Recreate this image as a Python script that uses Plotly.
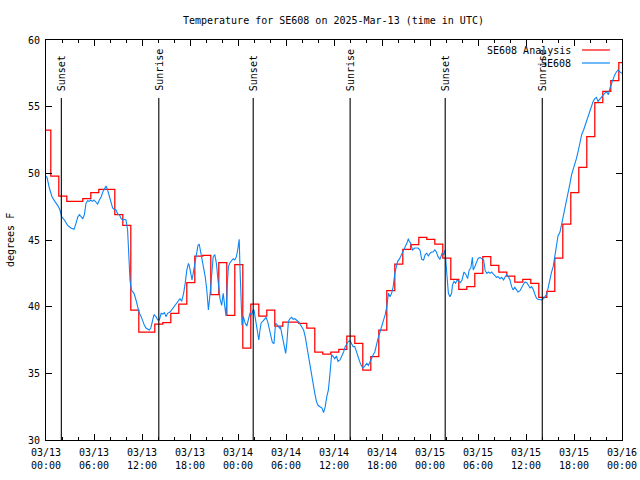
import pandas as pd
import plotly.graph_objects as go

# ---------------- data ----------------
base_time = "2025-03-13 00:00"
title_text = "Temperature for SE608 on 2025-Mar-13 (time in UTC)"
y_title = "degrees F"

# Observations (SE608): hours after base_time, temperature (F)
blue_hours = [0.0, 0.125, 0.42, 0.75, 1.1, 1.46, 1.75, 1.96, 2.3, 2.7, 3.1, 3.5, 3.75, 3.96, 4.17, 4.4, 4.6, 4.8,
              5.0, 5.2, 5.4, 5.6, 5.8, 6.0, 6.25, 6.45, 6.67, 6.9, 7.1, 7.3, 7.5, 7.7, 7.9, 8.1, 8.33, 8.5, 8.75,
              8.96, 9.17, 9.4, 9.6, 9.8, 10.0, 10.2, 10.33, 10.4, 10.5, 10.67, 10.83, 11.0, 11.25, 11.5, 11.67,
              11.9, 12.1, 12.3, 12.5, 12.7, 12.9, 13.1, 13.3, 13.5, 13.75, 13.96, 14.17, 14.4, 14.6, 14.8, 15.0,
              15.2, 15.5, 15.9, 16.33, 16.75, 16.96, 17.2, 17.4, 17.6, 17.8, 17.9, 18.1, 18.25, 18.4, 18.6, 18.8,
              19.0, 19.15, 19.3, 19.5, 19.7, 19.9, 20.1, 20.3, 20.5, 20.7, 20.9, 21.1, 21.3, 21.5, 21.75, 21.96,
              22.15, 22.35, 22.5, 22.65, 22.8, 23.0, 23.2, 23.4, 23.6, 23.8, 23.96, 24.15, 24.25, 24.4, 24.5,
              24.67, 24.9, 25.1, 25.3, 25.5, 25.7, 25.9, 26.0, 26.2, 26.4, 26.6, 26.75, 26.9, 27.1, 27.25, 27.5,
              27.7, 27.9, 28.1, 28.3, 28.5, 28.7, 28.8, 29.0, 29.2, 29.3, 29.5, 29.75, 29.96, 30.1, 30.3, 30.5,
              30.7, 30.9, 31.1, 31.3, 31.5, 31.75, 31.96, 32.2, 32.4, 32.6, 32.8, 33.0, 33.2, 33.4, 33.6, 33.8,
              34.0, 34.25, 34.5, 34.7, 34.9, 35.1, 35.3, 35.5, 35.7, 35.9, 36.1, 36.3, 36.5, 36.75, 36.96, 37.2,
              37.4, 37.6, 37.8, 38.0, 38.2, 38.4, 38.6, 38.8, 38.96, 39.2, 39.4, 39.6, 39.8, 40.1, 40.3, 40.5,
              40.7, 40.9, 41.1, 41.3, 41.5, 41.75, 41.96, 42.2, 42.4, 42.6, 42.8, 43.0, 43.2, 43.4, 43.6, 43.8,
              43.96, 44.2, 44.4, 44.7, 44.9, 45.1, 45.3, 45.4, 45.6, 45.8, 45.9, 46.1, 46.3, 46.5, 46.75, 46.96,
              47.2, 47.4, 47.6, 47.8, 48.0, 48.2, 48.4, 48.6, 48.8, 49.0, 49.25, 49.5, 49.7, 49.9, 50.0, 50.2,
              50.3, 50.5, 50.7, 50.8, 51.0, 51.2, 51.4, 51.6, 51.8, 52.0, 52.25, 52.5, 52.7, 52.9, 53.1, 53.3,
              53.4, 53.6, 53.8, 54.0, 54.25, 54.5, 54.7, 54.9, 55.1, 55.3, 55.5, 55.7, 55.9, 56.1, 56.3, 56.5,
              56.75, 56.96, 57.2, 57.4, 57.6, 57.8, 58.0, 58.2, 58.4, 58.6, 58.8, 59.0, 59.25, 59.5, 59.7, 59.9,
              60.1, 60.3, 60.5, 60.7, 60.9, 61.1, 61.3, 61.5, 61.75, 61.96, 62.2, 62.4, 62.6, 62.8, 63.0, 63.2,
              63.4, 63.6, 63.8, 64.0, 64.25, 64.5, 64.7, 64.9, 65.1, 65.3, 65.5, 65.7, 65.9, 66.1, 66.3, 66.5,
              66.75, 66.96, 67.2, 67.4, 67.6, 67.8, 68.0, 68.2, 68.4, 68.6, 68.8, 69.0, 69.25, 69.5, 69.7, 69.9,
              70.1, 70.3, 70.5, 70.7, 70.9, 71.1, 71.3, 71.5, 71.75, 72.0]
blue_temps = [49.8, 49.7, 48.9, 48.25, 47.9, 47.6, 47.25, 46.75, 46.5, 46.1, 45.9, 45.8, 46.25, 46.7, 46.9, 46.75,
              46.6, 46.9, 47.75, 47.95, 47.9, 48.0, 47.9, 48.0, 47.8, 47.7, 48.0, 48.25, 48.6, 48.9, 49.05, 48.75,
              48.25, 47.75, 47.4, 47.3, 47.25, 46.95, 46.9, 46.6, 46.5, 46.55, 46.5, 45.75, 44.0, 43.0, 42.0,
              41.25, 41.1, 41.0, 40.5, 40.0, 39.5, 39.25, 38.9, 38.6, 38.4, 38.3, 38.25, 38.4, 39.0, 39.4, 39.25,
              39.0, 39.0, 39.5, 39.45, 39.55, 39.25, 39.5, 39.6, 39.95, 40.3, 40.6, 40.4, 41.0, 41.75, 42.75,
              43.25, 43.1, 42.5, 42.0, 42.5, 43.25, 44.0, 44.6, 44.7, 44.25, 43.6, 43.0, 42.25, 41.25, 39.75,
              40.9, 42.25, 43.75, 43.9, 43.25, 42.0, 40.6, 40.1, 41.0, 40.0, 39.3, 41.5, 43.0, 43.3, 43.5, 43.6,
              43.5, 43.75, 44.25, 45.05, 42.9, 40.0, 38.6, 39.25, 38.75, 38.55, 39.0, 39.5, 39.4, 39.75, 39.75,
              39.0, 38.1, 37.5, 38.25, 38.8, 38.9, 39.0, 39.2, 38.9, 38.4, 37.75, 37.3, 37.25, 38.75, 38.7, 38.5,
              38.4, 38.5, 37.9, 37.0, 36.5, 37.25, 38.9, 39.1, 39.2, 39.05, 39.1, 39.0, 38.9, 38.7, 38.5, 38.25,
              37.75, 37.0, 36.25, 35.75, 35.0, 34.25, 33.5, 32.9, 32.6, 32.5, 32.4, 32.05, 32.5, 33.25, 33.75,
              35.0, 36.4, 36.25, 36.1, 36.3, 35.9, 36.0, 36.25, 36.6, 37.0, 37.25, 37.4, 37.45, 37.25, 37.0,
              37.0, 36.6, 36.25, 35.9, 35.6, 35.4, 35.5, 35.75, 35.6, 35.9, 36.25, 36.4, 36.6, 37.25, 37.6, 38.1,
              38.5, 39.0, 39.4, 40.0, 41.0, 40.75, 41.0, 41.5, 42.5, 43.0, 43.4, 43.6, 43.9, 44.25, 44.5, 44.75,
              45.1, 44.9, 44.75, 44.25, 44.3, 44.4, 44.4, 44.4, 44.25, 43.55, 43.5, 43.9, 44.0, 43.8, 44.0, 44.1,
              44.1, 44.25, 44.1, 43.75, 43.55, 44.0, 43.9, 44.25, 43.25, 42.0, 41.0, 40.75, 41.0, 41.6, 41.9,
              41.75, 42.0, 41.9, 41.8, 42.0, 42.6, 42.4, 42.1, 42.75, 42.9, 43.7, 42.75, 43.0, 43.25, 43.6, 43.7,
              43.6, 43.5, 42.7, 42.5, 42.6, 42.5, 42.6, 42.45, 42.3, 42.2, 42.25, 42.1, 42.2, 42.0, 42.25, 42.4,
              42.25, 42.0, 41.5, 41.25, 41.45, 41.25, 41.1, 41.2, 41.55, 41.7, 41.85, 41.8, 41.6, 41.4, 41.5,
              41.3, 40.95, 40.65, 40.55, 40.5, 40.5, 40.6, 40.75, 40.95, 41.5, 42.2, 42.6, 43.0, 43.75, 44.8,
              45.3, 45.6, 46.3, 46.8, 47.5, 48.0, 48.6, 49.25, 49.9, 50.25, 50.6, 51.1, 51.6, 52.25, 52.9, 53.25,
              53.6, 54.0, 54.4, 54.75, 55.1, 55.4, 55.6, 55.7, 55.4, 55.6, 55.75, 55.9, 56.05, 56.1, 55.9, 56.4,
              56.75, 57.0, 57.4, 57.6, 57.75, 57.6, 57.5]

# Analysis (SE608 Analysis): hourly values, each valid from its start time for one hour
red_start = "2025-03-12 23:36"
red_temps = [53.25, 49.8, 48.3, 47.9, 47.9, 48.1, 48.55, 48.8, 48.8, 46.9, 46.1, 39.75, 38.1, 38.1, 38.7, 38.8,
             39.5, 40.2, 41.8, 43.8, 43.85, 40.9, 43.3, 39.35, 43.15, 36.9, 40.2, 39.3, 39.75, 38.55, 38.85,
             38.85, 38.75, 38.4, 36.6, 36.45, 36.6, 36.8, 37.8, 37.25, 35.25, 36.25, 38.25, 41.2, 43.2, 44.3,
             44.65, 45.2, 45.05, 44.7, 43.65, 42.05, 41.3, 41.5, 42.5, 43.75, 43.1, 42.6, 42.3, 41.85, 42.05,
             41.75, 40.7, 41.15, 43.65, 46.2, 48.55, 50.45, 52.75, 55.3, 56.15, 56.95, 58.3]

sunset_times = ["2025-03-13 01:55", "2025-03-14 01:54", "2025-03-15 01:54"]
sunrise_times = ["2025-03-13 14:06", "2025-03-14 14:01", "2025-03-15 14:02"]

tick_times = ["2025-03-13 00:00", "2025-03-13 06:00", "2025-03-13 12:00", "2025-03-13 18:00",
              "2025-03-14 00:00", "2025-03-14 06:00", "2025-03-14 12:00", "2025-03-14 18:00",
              "2025-03-15 00:00", "2025-03-15 06:00", "2025-03-15 12:00", "2025-03-15 18:00",
              "2025-03-16 00:00"]
tick_labels = ["03/13<br>00:00", "03/13<br>06:00", "03/13<br>12:00", "03/13<br>18:00",
               "03/14<br>00:00", "03/14<br>06:00", "03/14<br>12:00", "03/14<br>18:00",
               "03/15<br>00:00", "03/15<br>06:00", "03/15<br>12:00", "03/15<br>18:00",
               "03/16<br>00:00"]
y_ticks = [30, 35, 40, 45, 50, 55, 60]

# ---------------- figure ----------------
FONT = "DejaVu Sans Mono"
RED = "#ff0000"
BLUE = "#0c86f5"

t0 = pd.Timestamp(base_time)
blue_x = t0 + pd.to_timedelta(blue_hours, unit="h")
red_x = pd.date_range(red_start, periods=len(red_temps) + 1, freq="h")
red_y = red_temps + [red_temps[-1]]

fig = go.Figure()
fig.add_trace(go.Scatter(x=red_x, y=red_y, mode="lines", line=dict(color=RED, width=1.25, shape="hv"),
                         name="SE608 Analysis", showlegend=False))
fig.add_trace(go.Scatter(x=blue_x, y=blue_temps, mode="lines", line=dict(color=BLUE, width=1.1),
                         name="SE608", showlegend=False))

line_top = 55.65
label_y = 56.1
for t in sunset_times:
    fig.add_shape(type="line", x0=t, x1=t, y0=30, y1=line_top, xref="x", yref="y",
                  line=dict(color="black", width=1.1))
    fig.add_annotation(x=t, y=label_y, xref="x", yref="y", text="Sunset", textangle=-90,
                       showarrow=False, xanchor="center", yanchor="bottom", borderpad=0,
                       font=dict(family=FONT, size=10, color="black"))
for t in sunrise_times:
    fig.add_shape(type="line", x0=t, x1=t, y0=30, y1=line_top, xref="x", yref="y",
                  line=dict(color="black", width=1.1))
    fig.add_annotation(x=t, y=label_y, xref="x", yref="y", text="Sunrise", textangle=-90,
                       showarrow=False, xanchor="center", yanchor="bottom", borderpad=0,
                       font=dict(family=FONT, size=10, color="black"))

# legend (gnuplot style: text on the left, sample on the right)
legend_items = [("SE608 Analysis", RED, 0.975), ("SE608", BLUE, 0.9425)]
for label, color, ly in legend_items:
    fig.add_annotation(x=0.915, y=ly, xref="paper", yref="paper", text=label, showarrow=False,
                       xanchor="right", yanchor="middle", font=dict(family=FONT, size=10, color="black"))
    fig.add_shape(type="line", x0=0.9306, x1=0.979, y0=ly, y1=ly, xref="paper", yref="paper",
                  line=dict(color=color, width=1.2))

fig.add_annotation(x=-0.0625, y=0.5, xref="paper", yref="paper", text=y_title, textangle=-90,
                   showarrow=False, xanchor="center", yanchor="middle",
                   font=dict(family=FONT, size=10, color="black"))

fig.update_layout(
    width=640, height=480,
    margin=dict(l=46, r=18, t=40, b=40, autoexpand=False),
    paper_bgcolor="white", plot_bgcolor="white",
    font=dict(family=FONT, size=10, color="black"),
    title=dict(text=title_text, x=0.521, xanchor="center", y=1 - 20 / 480, yanchor="middle",
               yref="container", font=dict(family=FONT, size=10, color="black")),
    xaxis=dict(type="date", range=[tick_times[0], tick_times[-1]], tickmode="array",
               tickvals=tick_times, ticktext=tick_labels, ticks="inside", ticklen=6, tickwidth=1,
               tickcolor="black", showline=True, linecolor="black", linewidth=1, mirror="allticks",
               showgrid=False, zeroline=False, automargin=False, ticklabelstandoff=3,
               minor=dict(dtick=2 * 3600 * 1000, tick0=tick_times[0], ticks="inside", ticklen=3,
                          tickcolor="black", showgrid=False)),
    yaxis=dict(range=[30, 60], tickmode="array", tickvals=y_ticks, ticks="inside", ticklen=6,
               tickwidth=1, tickcolor="black", showline=True, linecolor="black", linewidth=1,
               mirror="allticks", showgrid=False, zeroline=False, automargin=False,
               ticklabelstandoff=3),
)

fig.write_html("out.html", config={"displayModeBar": False})

# remove the browser's default page margin so the figure sits at the window origin
with open("out.html", "r", encoding="utf-8") as fh:
    html = fh.read()
html = html.replace("<head>", "<head><style>html,body{margin:0;padding:0;}</style>", 1)
with open("out.html", "w", encoding="utf-8") as fh:
    fh.write(html)
